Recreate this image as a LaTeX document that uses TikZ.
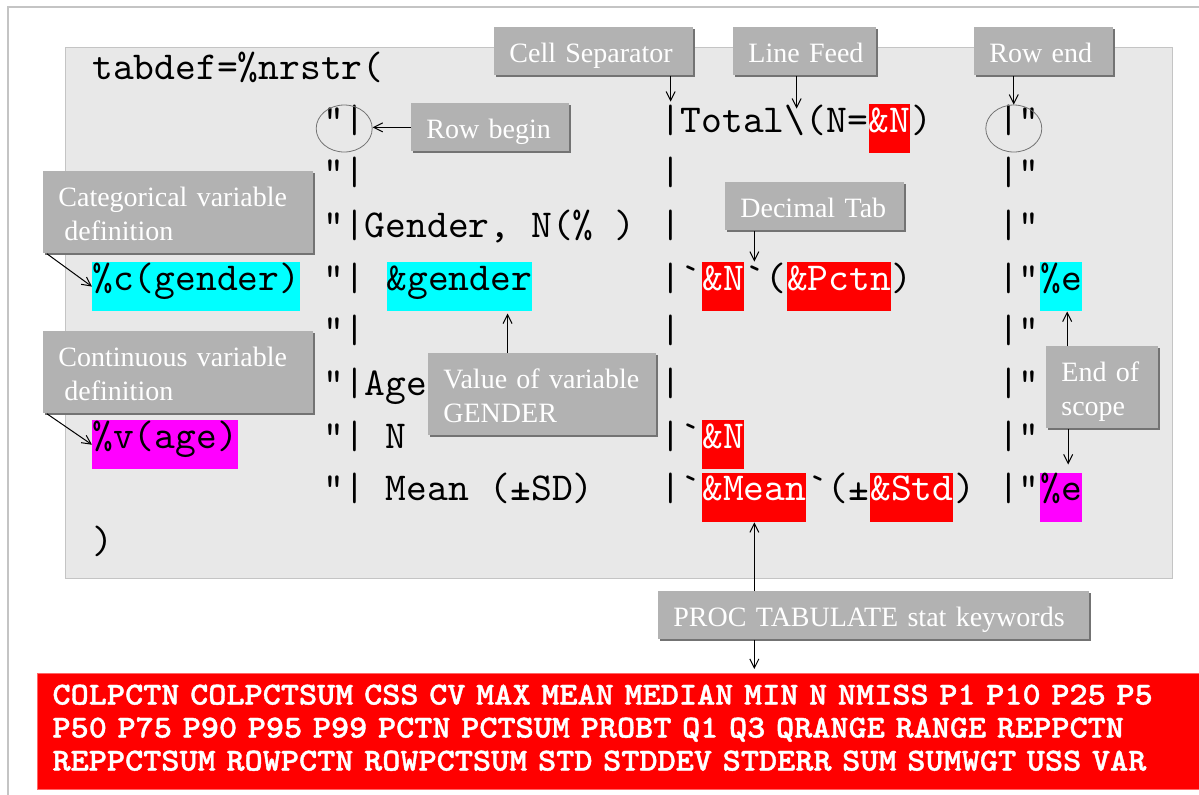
\documentclass[tikz,border=0pt]{standalone}
\usepackage{fontspec}
\setmainfont{Liberation Serif}
\newfontfamily\codefont{lmmono10-regular}[Extension=.otf]
\newfontfamily\kwfont{lmmonolt10-bold}[Extension=.otf,FakeBold=1.2,FakeStretch=1.08]
\usetikzlibrary{arrows.meta,positioning,shapes.geometric,shadows}
\definecolor{panelgray}{HTML}{E8E8E8}
\definecolor{panelline}{HTML}{C4C4C4}
\definecolor{boxgray}{HTML}{B2B2B2}
\definecolor{hlred}{HTML}{FF0000}
\definecolor{hlcyan}{HTML}{00FFFF}
\definecolor{hlmag}{HTML}{FF00FF}

\begin{document}
\begin{tikzpicture}[x=0.5pt,y=-0.5pt,
    code/.style={font=\fontsize{19.8}{22}\codefont,inner sep=0pt,
                 text height=14pt,text depth=10.5pt},
    cred/.style={code,fill=hlred,text=white},
    ccyan/.style={code,fill=hlcyan},
    cmag/.style={code,fill=hlmag},
    tag/.style={fill=boxgray,text=white,font=\fontsize{14}{17}\selectfont,
                anchor=north west,align=left,inner xsep=7.5pt,inner ysep=0pt,
                text height=17.5pt,text depth=6.5pt,
                drop shadow={shadow xshift=1pt,shadow yshift=-1pt,
                             fill=black!55,opacity=1}},
    tag2/.style={tag,text depth=23.5pt},
    ring/.style={draw=black!55,line width=0.4pt,ellipse,inner sep=0pt,
                 minimum width=28pt,minimum height=23.5pt},
    ar/.style={-{Straight Barb[length=4.5pt,width=4.5pt]},line width=0.5pt}]
  \useasboundingbox (0,0) rectangle (1199,794);
  % page frame and code panel
  \draw[panelline,line width=0.6pt] (1220,7) -- (8,7) -- (8,820);
  \node[fill=panelgray,draw=panelline,line width=0.6pt,anchor=north west,
        inner sep=0pt,minimum width=553.5pt,minimum height=265.5pt]
        (panel) at (65,47) {};

  % macro call
  \node[code,anchor=base west] (head) at (92,79) {tabdef=\%nrstr(};
  \node[code,anchor=base west] (close) at (92,553.6) {)};
  % left cells
  \node[code,anchor=base west] (l1) at (323,132) {"|};
  \node[code,anchor=base west] (l2) at (323,184.7) {"|};
  \node[code,anchor=base west] (l3) at (323,237.4) {"|Gender, N(\% )};
  \node[code,anchor=base west] (l4) at (323,290.1) {"|\ \null};
  \node[ccyan,right=0pt of l4] (l4g) {\&gender};
  \node[code,anchor=base west] (l5) at (323,342.8) {"|};
  \node[code,anchor=base west] (l6) at (323,395.5) {"|Age};
  \node[code,anchor=base west] (l7) at (323,448.2) {"| N};
  \node[code,anchor=base west] (l8) at (323,500.9) {"| Mean (±SD)};
  % variable definitions
  \node[ccyan,anchor=base west] (cdef) at (92,290.1) {\%c(gender)};
  \node[cmag,anchor=base west] (vdef) at (92,448.2) {\%v(age)};
  % middle cells
  \node[code,anchor=base west] (m1) at (659.6,132) {|Total\textbackslash(N=};
  \node[cred,right=0pt of m1] (m1n) {\&N};
  \node[code,right=0pt of m1n] (m1e) {)};
  \foreach \i/\y in {2/184.7,3/237.4,5/342.8,6/395.5}
    \node[code,anchor=base west] (m\i) at (659.6,\y) {|};
  \node[code,anchor=base west] (m4) at (659.6,290.1) {|`};
  \node[cred,right=0pt of m4] (m4n) {\&N};
  \node[code,right=0pt of m4n] (m4p) {`(};
  \node[cred,right=0pt of m4p] (m4c) {\&Pctn};
  \node[code,right=0pt of m4c] (m4e) {)};
  \node[code,anchor=base west] (m7) at (659.6,448.2) {|`};
  \node[cred,right=0pt of m7] (m7n) {\&N};
  \node[code,anchor=base west] (m8) at (659.6,500.9) {|`};
  \node[cred,right=0pt of m8] (m8m) {\&Mean};
  \node[code,right=0pt of m8m] (m8p) {`(±};
  \node[cred,right=0pt of m8p] (m8s) {\&Std};
  \node[code,right=0pt of m8s] (m8e) {)};
  % right cells
  \foreach \i/\y in {1/132,2/184.7,3/237.4,4/290.1,5/342.8,6/395.5,7/448.2,8/500.9}
    \node[code,anchor=base west] (r\i) at (997.6,\y) {|"};
  \node[ccyan,right=0pt of r4] (r4e) {\%e};
  \node[cmag,right=0pt of r8] (r8e) {\%e};
  \node[ring] (ringb) at (l1) {};
  \node[ring] (ringe) at ([xshift=-2.5pt]r1) {};

  % callouts
  \node[tag,text width=84.5pt] (sep) at (494,27) {Cell Separator};
  \node[tag,text width=56.5pt] (lf) at (733,27) {Line~Feed};
  \node[tag,text width=54.5pt] (rend) at (974,27) {Row end};
  \node[tag,text width=64pt] (rbeg) at (411,103) {Row begin};
  \node[tag,text width=74.5pt] (dtab) at (725,182) {Decimal~Tab};
  \node[tag2,text width=120pt] (cat) at (43,171)
    {Categorical variable\\\hspace*{3pt}definition};
  \node[tag2,text width=120pt] (cont) at (43,331)
    {Continuous variable\\\hspace*{3pt}definition};
  \node[tag2,text width=99pt] (val) at (428,353) {Value~of~variable\\GENDER};
  \node[tag2,text width=41pt] (eos) at (1046,346) {End of\\scope};
  \node[tag,text width=200.5pt] (proc) at (658,591) {PROC TABULATE stat keywords};

  % stat keywords
  \node[fill=hlred,draw=red!60!white,line width=0.5pt,text=white,
        anchor=north west,align=left,font=\fontsize{16}{16.5}\kwfont,
        inner xsep=7.5pt,inner ysep=0pt,text width=575pt,
        text height=15.5pt,text depth=42.5pt] (kw) at (37,673)
    {COLPCTN COLPCTSUM CSS CV MAX MEAN MEDIAN MIN N NMISS P1 P10 P25 P5\\
     P50 P75 P90 P95 P99 PCTN PCTSUM PROBT Q1 Q3 QRANGE RANGE REPPCTN\\
     REPPCTSUM ROWPCTN ROWPCTSUM STD STDDEV STDERR SUM SUMWGT USS VAR};

  % pointers
  \coordinate (septip) at ([xshift=5.5pt,yshift=1pt]m1.north west);
  \coordinate (lftip) at ([xshift=68.5pt,yshift=-2.5pt]m1.north west);
  \coordinate (dttip) at ([xshift=5pt]m4n.north east);
  \coordinate (valtip) at ([xshift=-12.5pt,yshift=-1pt]l4g.south east);
  \coordinate (eosup) at ([xshift=3pt]r4e.south);
  \coordinate (eosdn) at ([xshift=3.5pt,yshift=4pt]r8e.north);
  \draw[ar] (septip |- sep.south) -- (septip);
  \draw[ar] (lftip |- lf.south) -- (lftip);
  \draw[ar] (ringe |- rend.south) -- (ringe.north);
  \draw[ar] (rbeg.west) -- (rbeg.west -| ringb.east);
  \draw[ar] (dttip |- dtab.south) -- (dttip);
  \draw[ar] ([xshift=2pt]cat.south west) -- (cdef.west);
  \draw[ar] ([xshift=2pt]cont.south west) -- (vdef.west);
  \draw[ar] (valtip |- val.north) -- (valtip);
  \draw[ar] (eosup |- eos.north) -- (eosup);
  \draw[ar] (eosdn |- eos.south) -- (eosdn);
  \draw[ar] (proc.north -| m8m.south) -- (m8m.south);
  \draw[ar,shorten >=2pt] (proc.south -| m8m.south) -- (kw.north -| m8m.south);
\end{tikzpicture}
\end{document}
